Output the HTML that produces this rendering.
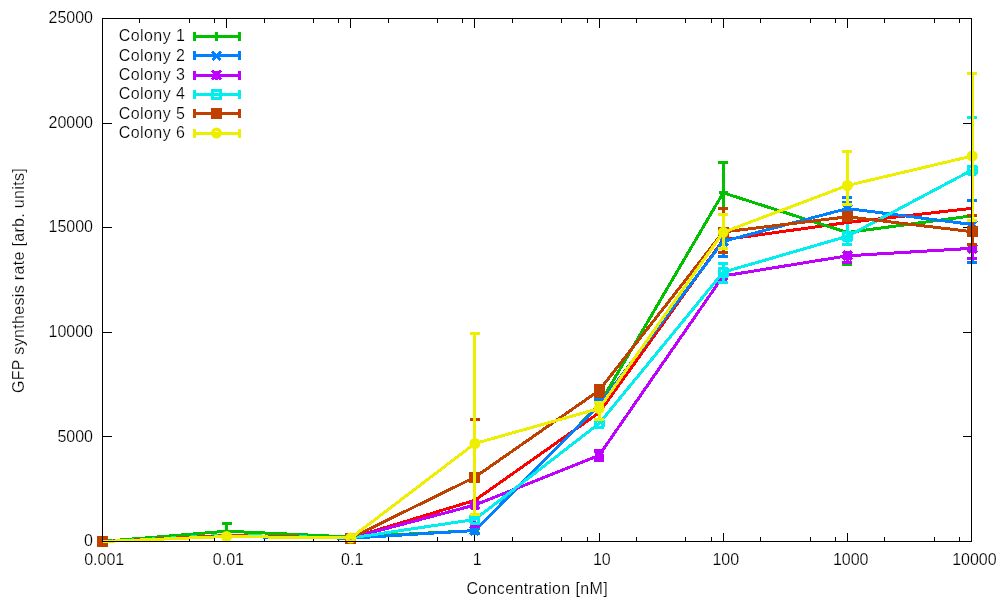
<!DOCTYPE html>
<html lang="en"><head><meta charset="utf-8"><title>GFP synthesis rate vs concentration</title>
<style>
html,body{margin:0;padding:0;background:#fff}
body{width:1000px;height:599px;overflow:hidden}
svg{display:block}
text{font-family:"Liberation Sans",Arial,sans-serif;font-size:16px;fill:#000;stroke:#fff;stroke-width:0.2px}
</style></head><body>
<svg width="1000" height="599" viewBox="0 0 1000 599">
<rect width="1000" height="599" fill="#fff"/>

<path d="M139.9 541.5v-4.5M139.9 18.5v4.5M189.3 541.5v-4.5M189.3 18.5v4.5M214.6 541.5v-4.5M214.6 18.5v4.5M226.6 541.5v-9M226.6 18.5v9M264.0 541.5v-4.5M264.0 18.5v4.5M313.4 541.5v-4.5M313.4 18.5v4.5M338.8 541.5v-4.5M338.8 18.5v4.5M350.8 541.5v-9M350.8 18.5v9M388.2 541.5v-4.5M388.2 18.5v4.5M437.6 541.5v-4.5M437.6 18.5v4.5M462.9 541.5v-4.5M462.9 18.5v4.5M474.9 541.5v-9M474.9 18.5v9M512.3 541.5v-4.5M512.3 18.5v4.5M561.7 541.5v-4.5M561.7 18.5v4.5M587.0 541.5v-4.5M587.0 18.5v4.5M599.1 541.5v-9M599.1 18.5v9M636.4 541.5v-4.5M636.4 18.5v4.5M685.8 541.5v-4.5M685.8 18.5v4.5M711.2 541.5v-4.5M711.2 18.5v4.5M723.2 541.5v-9M723.2 18.5v9M760.6 541.5v-4.5M760.6 18.5v4.5M810.0 541.5v-4.5M810.0 18.5v4.5M835.3 541.5v-4.5M835.3 18.5v4.5M847.4 541.5v-9M847.4 18.5v9M884.7 541.5v-4.5M884.7 18.5v4.5M934.1 541.5v-4.5M934.1 18.5v4.5M959.5 541.5v-4.5M959.5 18.5v4.5M102.5 436.9h9M971.5 436.9h-9M102.5 332.3h9M971.5 332.3h-9M102.5 227.7h9M971.5 227.7h-9M102.5 123.1h9M971.5 123.1h-9" stroke="#000" stroke-width="1" fill="none" shape-rendering="crispEdges"/>
<g shape-rendering="crispEdges" stroke-linejoin="round">
<g id="s-red">
<polyline points="102.5,541.5 226.6,535.8 350.8,538.0 474.9,500.3 599.1,412.7 723.2,239.8 847.4,222.5 972.2,208.3" stroke="#ff0000" stroke-width="3" fill="none"/>
</g>
<g id="s-green">
<path d="M226.6 523.4V531.2M221.6 523.4H231.6M221.6 531.2H231.6" stroke="#00c000" stroke-width="3" fill="none"/>
<path d="M723.2 162.4V214.6M718.2 162.4H728.2" stroke="#00c000" stroke-width="3" fill="none"/>
<path d="M842.4 264.8H852.4" stroke="#00c000" stroke-width="3" fill="none"/>
<polyline points="102.5,541.5 226.6,531.2 350.8,537.0 474.9,530.6 599.1,404.8 723.2,192.8 847.4,232.5 972.2,215.8" stroke="#00c000" stroke-width="3" fill="none"/>
<path d="M222.1 531.2H231.1M226.6 526.7V535.7" stroke="#00c000" stroke-width="3" fill="none"/>
<path d="M346.3 537.0H355.3M350.8 532.5V541.5" stroke="#00c000" stroke-width="3" fill="none"/>
<path d="M470.4 530.6H479.4M474.9 526.1V535.1" stroke="#00c000" stroke-width="3" fill="none"/>
<path d="M594.6 404.8H603.6M599.1 400.3V409.3" stroke="#00c000" stroke-width="3" fill="none"/>
<path d="M718.7 192.8H727.7M723.2 188.3V197.3" stroke="#00c000" stroke-width="3" fill="none"/>
<path d="M842.9 232.5H851.9M847.4 228.0V237.0" stroke="#00c000" stroke-width="3" fill="none"/>
<path d="M967.7 215.8H976.7M972.2 211.3V220.3" stroke="#00c000" stroke-width="3" fill="none"/>
</g>
<g id="s-blue">
<path d="M474.9 528.5V533.5M469.9 528.5H479.9M469.9 533.5H479.9" stroke="#0080ff" stroke-width="3" fill="none"/>
<path d="M599.1 399.3V405.0M594.1 399.3H604.1" stroke="#0080ff" stroke-width="3" fill="none"/>
<path d="M723.2 241.4V256.4M718.2 256.4H728.2" stroke="#0080ff" stroke-width="3" fill="none"/>
<path d="M847.4 197.3V208.5M842.4 197.3H852.4" stroke="#0080ff" stroke-width="3" fill="none"/>
<path d="M972.2 200.8V262.8M967.2 200.8H977.2M967.2 262.8H977.2" stroke="#0080ff" stroke-width="3" fill="none"/>
<path d="M842.4 202.5H852.4" stroke="#0080ff" stroke-width="3" fill="none"/>
<polyline points="102.5,541.5 226.6,536.5 350.8,538.2 474.9,530.5 599.1,405.0 723.2,241.4 847.4,208.5 972.2,224.5" stroke="#0080ff" stroke-width="3" fill="none"/>
<path d="M346.5 533.9L355.1 542.5M346.5 542.5L355.1 533.9" stroke="#0080ff" stroke-width="3.6" fill="none"/>
<path d="M470.6 526.2L479.2 534.8M470.6 534.8L479.2 526.2" stroke="#0080ff" stroke-width="3.6" fill="none"/>
<path d="M594.8 400.7L603.4 409.3M594.8 409.3L603.4 400.7" stroke="#0080ff" stroke-width="3.6" fill="none"/>
<path d="M718.9 237.1L727.5 245.7M718.9 245.7L727.5 237.1" stroke="#0080ff" stroke-width="3.6" fill="none"/>
<path d="M843.1 204.2L851.7 212.8M843.1 212.8L851.7 204.2" stroke="#0080ff" stroke-width="3.6" fill="none"/>
<path d="M967.9 220.2L976.5 228.8M967.9 228.8L976.5 220.2" stroke="#0080ff" stroke-width="3.6" fill="none"/>
</g>
<g id="s-purple">
<path d="M474.9 505.0V526.0M469.9 526.0H479.9" stroke="#c000ff" stroke-width="3" fill="none"/>
<path d="M599.1 450.8V460.3M594.1 450.8H604.1M594.1 460.3H604.1" stroke="#c000ff" stroke-width="3" fill="none"/>
<path d="M847.4 255.8V262.6M842.4 262.6H852.4" stroke="#c000ff" stroke-width="3" fill="none"/>
<path d="M972.2 248.3V258.0M967.2 258.0H977.2" stroke="#c000ff" stroke-width="3" fill="none"/>
<polyline points="102.5,541.5 226.6,536.5 350.8,538.0 474.9,505.0 599.1,455.3 723.2,276.0 847.4,255.8 972.2,248.3" stroke="#c000ff" stroke-width="3" fill="none"/>
<path d="M346.3 538.0H355.3M350.8 533.5V542.5M346.5 533.7L355.1 542.3M346.5 542.3L355.1 533.7" stroke="#c000ff" stroke-width="3.6" fill="none"/>
<path d="M470.4 505.0H479.4M474.9 500.5V509.5M470.6 500.7L479.2 509.3M470.6 509.3L479.2 500.7" stroke="#c000ff" stroke-width="3.6" fill="none"/>
<path d="M594.6 455.3H603.6M599.1 450.8V459.8M594.8 451.0L603.4 459.6M594.8 459.6L603.4 451.0" stroke="#c000ff" stroke-width="3.6" fill="none"/>
<path d="M718.7 276.0H727.7M723.2 271.5V280.5M718.9 271.7L727.5 280.3M718.9 280.3L727.5 271.7" stroke="#c000ff" stroke-width="3.6" fill="none"/>
<path d="M842.9 255.8H851.9M847.4 251.3V260.3M843.1 251.5L851.7 260.1M843.1 260.1L851.7 251.5" stroke="#c000ff" stroke-width="3.6" fill="none"/>
<path d="M967.7 248.3H976.7M972.2 243.8V252.8M967.9 244.0L976.5 252.6M967.9 252.6L976.5 244.0" stroke="#c000ff" stroke-width="3.6" fill="none"/>
</g>
<g id="s-cyan">
<path d="M723.2 263.9V282.0M718.2 263.9H728.2M718.2 282.0H728.2" stroke="#00eeee" stroke-width="3" fill="none"/>
<path d="M847.4 224.0V244.9M842.4 244.9H852.4" stroke="#00eeee" stroke-width="3" fill="none"/>
<path d="M972.2 117.4V170.0M967.2 117.4H977.2" stroke="#00eeee" stroke-width="3" fill="none"/>
<polyline points="102.5,541.5 226.6,535.2 350.8,538.0 474.9,519.5 599.1,423.5 723.2,272.2 847.4,236.3 972.2,170.0" stroke="#00eeee" stroke-width="3" fill="none"/>
<rect x="347.04" y="534.25" width="7.5" height="7.5" stroke="#00eeee" stroke-width="3.5" fill="none"/>
<rect x="471.18" y="515.75" width="7.5" height="7.5" stroke="#00eeee" stroke-width="3.5" fill="none"/>
<rect x="595.32" y="419.75" width="7.5" height="7.5" stroke="#00eeee" stroke-width="3.5" fill="none"/>
<rect x="719.46" y="268.45" width="7.5" height="7.5" stroke="#00eeee" stroke-width="3.5" fill="none"/>
<rect x="843.61" y="232.55" width="7.5" height="7.5" stroke="#00eeee" stroke-width="3.5" fill="none"/>
<rect x="968.45" y="166.25" width="7.5" height="7.5" stroke="#00eeee" stroke-width="3.5" fill="none"/>
</g>
<g id="s-brown">
<path d="M474.9 419.3V477.2M469.9 419.3H479.9" stroke="#c04000" stroke-width="3" fill="none"/>
<path d="M599.1 385.0V396.0M594.1 385.0H604.1M594.1 396.0H604.1" stroke="#c04000" stroke-width="3" fill="none"/>
<path d="M723.2 208.3V252.6M718.2 208.3H728.2M718.2 252.6H728.2" stroke="#c04000" stroke-width="3" fill="none"/>
<path d="M972.2 215.3V244.2M967.2 215.3H977.2M967.2 244.2H977.2" stroke="#c04000" stroke-width="3" fill="none"/>
<polyline points="102.5,541.5 226.6,535.6 350.8,538.0 474.9,477.2 599.1,390.5 723.2,232.0 847.4,216.8 972.2,231.7" stroke="#c04000" stroke-width="3" fill="none"/>
<rect x="97.0" y="536.0" width="11" height="11" fill="#c04000"/>
<rect x="345.3" y="532.5" width="11" height="11" fill="#c04000"/>
<rect x="469.4" y="471.7" width="11" height="11" fill="#c04000"/>
<rect x="593.6" y="385.0" width="11" height="11" fill="#c04000"/>
<rect x="717.7" y="226.5" width="11" height="11" fill="#c04000"/>
<rect x="841.9" y="211.3" width="11" height="11" fill="#c04000"/>
<rect x="966.7" y="226.2" width="11" height="11" fill="#c04000"/>
</g>
<g id="s-yellow">
<path d="M474.9 333.8V514.0M469.9 333.8H479.9M469.9 514.0H479.9" stroke="#eeee00" stroke-width="3" fill="none"/>
<path d="M599.1 402.0V419.0M594.1 402.0H604.1M594.1 419.0H604.1" stroke="#eeee00" stroke-width="3" fill="none"/>
<path d="M723.2 214.6V248.9M718.2 214.6H728.2M718.2 248.9H728.2" stroke="#eeee00" stroke-width="3" fill="none"/>
<path d="M847.4 151.2V204.8M842.4 151.2H852.4M842.4 204.8H852.4" stroke="#eeee00" stroke-width="3" fill="none"/>
<path d="M972.2 73.6V220.3M967.2 73.6H977.2M967.2 220.3H977.2" stroke="#eeee00" stroke-width="3" fill="none"/>
<polyline points="102.5,541.5 226.6,536.5 350.8,538.0 474.9,443.5 599.1,408.5 723.2,232.3 847.4,185.5 972.2,156.0" stroke="#eeee00" stroke-width="3" fill="none"/>
<circle cx="226.6" cy="536.5" r="3.5" stroke="#eeee00" stroke-width="4" fill="none" shape-rendering="geometricPrecision"/>
<circle cx="350.8" cy="538.0" r="3.5" stroke="#eeee00" stroke-width="4" fill="none" shape-rendering="geometricPrecision"/>
<circle cx="474.9" cy="443.5" r="3.5" stroke="#eeee00" stroke-width="4" fill="none" shape-rendering="geometricPrecision"/>
<circle cx="599.1" cy="408.5" r="3.5" stroke="#eeee00" stroke-width="4" fill="none" shape-rendering="geometricPrecision"/>
<circle cx="723.2" cy="232.3" r="3.5" stroke="#eeee00" stroke-width="4" fill="none" shape-rendering="geometricPrecision"/>
<circle cx="847.4" cy="185.5" r="3.5" stroke="#eeee00" stroke-width="4" fill="none" shape-rendering="geometricPrecision"/>
<circle cx="972.2" cy="156.0" r="3.5" stroke="#eeee00" stroke-width="4" fill="none" shape-rendering="geometricPrecision"/>
</g>
</g>
<g id="legend" shape-rendering="crispEdges">
<path d="M194.5 36.5H239.5M194.5 32.0V41.0M239.5 32.0V41.0" stroke="#00c000" stroke-width="3" fill="none"/>
<path d="M212.0 36.5H221.0M216.5 32.0V41.0" stroke="#00c000" stroke-width="3" fill="none"/>
<path d="M194.5 55.8H239.5M194.5 51.3V60.3M239.5 51.3V60.3" stroke="#0080ff" stroke-width="3" fill="none"/>
<path d="M212.2 51.5L220.8 60.1M212.2 60.1L220.8 51.5" stroke="#0080ff" stroke-width="3" fill="none"/>
<path d="M194.5 75.1H239.5M194.5 70.6V79.6M239.5 70.6V79.6" stroke="#c000ff" stroke-width="3" fill="none"/>
<path d="M212.0 75.1H221.0M216.5 70.6V79.6M212.2 70.8L220.8 79.4M212.2 79.4L220.8 70.8" stroke="#c000ff" stroke-width="3" fill="none"/>
<path d="M194.5 94.4H239.5M194.5 89.9V98.9M239.5 89.9V98.9" stroke="#00eeee" stroke-width="3" fill="none"/>
<rect x="212.5" y="90.4" width="8" height="8" stroke="#00eeee" stroke-width="3" fill="none"/>
<path d="M194.5 113.7H239.5M194.5 109.2V118.2M239.5 109.2V118.2" stroke="#c04000" stroke-width="3" fill="none"/>
<rect x="211.0" y="108.2" width="11" height="11" fill="#c04000"/>
<path d="M194.5 133.0H239.5M194.5 128.5V137.5M239.5 128.5V137.5" stroke="#eeee00" stroke-width="3" fill="none"/>
<circle cx="216.5" cy="133.0" r="3.75" stroke="#eeee00" stroke-width="3.5" fill="none" shape-rendering="geometricPrecision"/>
</g>
<g id="legend-text" text-anchor="end" style="letter-spacing:0.45px">
<text x="185.4" y="41.3">Colony 1</text>
<text x="185.4" y="60.6">Colony 2</text>
<text x="185.4" y="79.9">Colony 3</text>
<text x="185.4" y="99.2">Colony 4</text>
<text x="185.4" y="118.5">Colony 5</text>
<text x="185.4" y="137.8">Colony 6</text>
</g>
<path d="M102.5 18.5H971.5V541.5H102.5Z" stroke="#000" stroke-width="1" fill="none" shape-rendering="crispEdges"/>
<g id="ylabels" text-anchor="end">
<text x="93" y="546.1">0</text>
<text x="93" y="441.5">5000</text>
<text x="93" y="336.9">10000</text>
<text x="93" y="232.3">15000</text>
<text x="93" y="127.7">20000</text>
<text x="93" y="23.1">25000</text>
</g>
<g id="xlabels" text-anchor="middle">
<text x="104.2" y="565">0.001</text>
<text x="228.4" y="565">0.01</text>
<text x="352.2" y="565">0.1</text>
<text x="477.1" y="565">1</text>
<text x="601.8" y="565">10</text>
<text x="725.8" y="565">100</text>
<text x="850.7" y="565">1000</text>
<text x="974.4" y="565">10000</text>
</g>
<text x="537.2" y="593.9" text-anchor="middle" style="letter-spacing:0.35px">Concentration [nM]</text>
<text transform="translate(24 280.5) rotate(-90)" text-anchor="middle" style="letter-spacing:0.33px">GFP synthesis rate [arb. units]</text>
</svg></body></html>
